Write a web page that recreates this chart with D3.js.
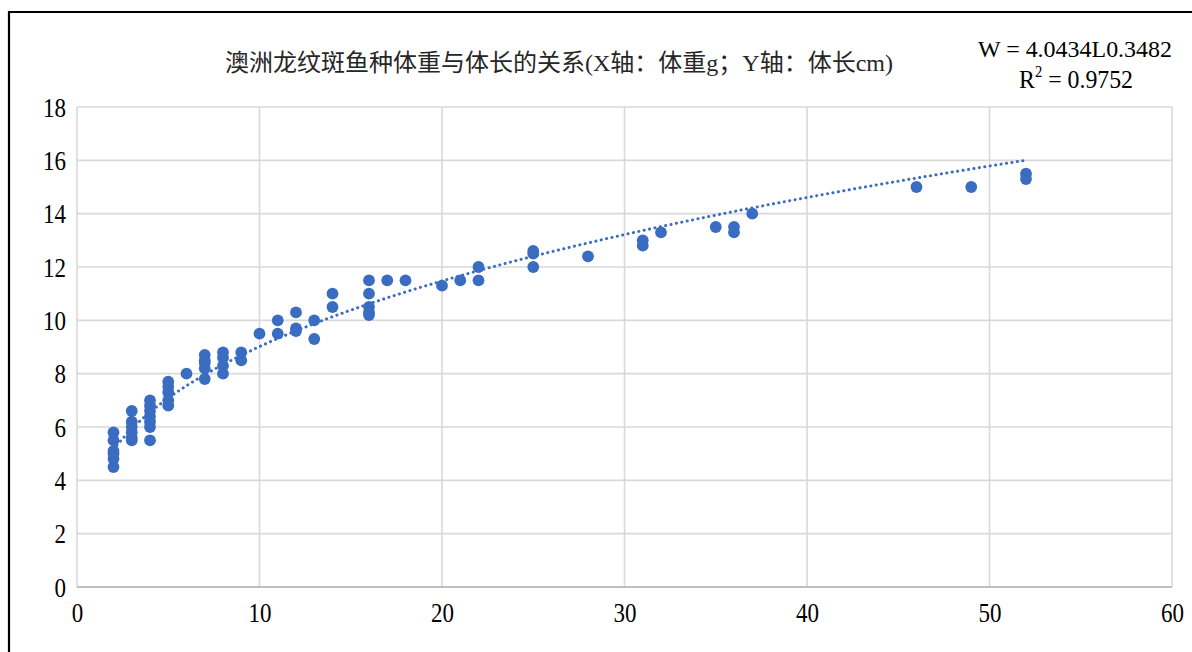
<!DOCTYPE html>
<html><head><meta charset="utf-8">
<script src="https://cdn.jsdelivr.net/npm/d3@7"></script>
<style>html,body{margin:0;padding:0;background:#fff;}svg{display:block;}</style>
</head><body>
<script>
// Data: weight (g) vs length (cm)
const weights = [2,2,2,2,2,2, 3,3,3,3,3,3, 4,4,4,4,4,4,4, 5,5,5,5,5, 6, 7,7,7,7,7, 8,8,8,8, 9,9, 10, 11,11, 12,12,12, 13,13, 14,14, 16,16,16,16,16, 17, 18, 20, 21, 22,22, 25,25,25, 28, 31,31, 32, 35, 36,36, 37, 46, 49, 52,52];
const lengths = [5.8,5.5,5.1,5.0,4.8,4.5, 6.6,6.2,6.0,5.8,5.6,5.5, 7.0,6.8,6.6,6.4,6.2,6.0,5.5, 7.7,7.5,7.3,7.0,6.8, 8.0, 8.7,8.5,8.4,8.2,7.8, 8.8,8.6,8.3,8.0, 8.8,8.5, 9.5, 10.0,9.5, 10.3,9.7,9.6, 10.0,9.3, 11.0,10.5, 11.5,11.0,10.5,10.3,10.2, 11.5, 11.5, 11.3, 11.5, 12.0,11.5, 12.6,12.5,12.0, 12.4, 13.0,12.8, 13.3, 13.5, 13.5,13.3, 14.0, 15.0, 15.0, 15.5,15.3];
const xTicks = [0,10,20,30,40,50,60];
const yTicks = [0,2,4,6,8,10,12,14,16,18];
const fitA = 4.0434, fitB = 0.3482;
const trendRange = [2,52];
const titleText = "澳洲龙纹斑鱼种体重与体长的关系(X轴：体重g；Y轴：体长cm)";
const eqText = "W = 4.0434L0.3482";
const r2Value = "0.9752";

const W = 1192, H = 652;
const svg = d3.select("body").append("svg").attr("width", W).attr("height", H);
const serif = "'Liberation Serif','Times New Roman','Noto Sans CJK SC',serif";

// outer frame (left + top border)
svg.append("path").attr("d", `M9,${H+5} L9,12 L${W+5},12`)
  .attr("fill","none").attr("stroke","#000").attr("stroke-width",2.2);

const x = d3.scaleLinear().domain([0,60]).range([77,1172]);
const y = d3.scaleLinear().domain([0,18]).range([587,107]);

// gridlines
svg.append("g").selectAll("line").data(yTicks.filter(d=>d>0)).join("line")
  .attr("x1", x(0)).attr("x2", x(60)).attr("y1", d=>y(d)).attr("y2", d=>y(d))
  .attr("stroke","#d9d9d9").attr("stroke-width",1.6);
svg.append("g").selectAll("line").data(xTicks).join("line")
  .attr("x1", d=>x(d)).attr("x2", d=>x(d)).attr("y1", y(0)).attr("y2", y(18))
  .attr("stroke","#d9d9d9").attr("stroke-width",1.6);
// x axis baseline
svg.append("line").attr("x1", x(0)).attr("x2", x(60)).attr("y1", y(0)).attr("y2", y(0))
  .attr("stroke","#bfbfbf").attr("stroke-width",1.8);

// axes labels (D3 axes, domain/ticks hidden)
const yAxis = svg.append("g").attr("transform","translate(66,0)")
  .call(d3.axisLeft(y).tickValues(yTicks).tickSize(0).tickPadding(0).tickFormat(d3.format("d")));
yAxis.select(".domain").remove();
yAxis.selectAll("text").attr("font-family", serif).attr("font-size", 27).attr("fill","#000")
  .attr("dy","0.34em")
  .attr("textLength", d => String(d).length*11.5).attr("lengthAdjust","spacingAndGlyphs");

const xAxis = svg.append("g").attr("transform",`translate(0,${y(0)})`)
  .call(d3.axisBottom(x).tickValues(xTicks).tickSize(0).tickPadding(0).tickFormat(d3.format("d")));
xAxis.select(".domain").remove();
xAxis.selectAll("text").attr("font-family", serif).attr("font-size", 27).attr("fill","#000")
  .attr("y", 35).attr("dy", 0)
  .attr("textLength", d => String(d).length*11.5).attr("lengthAdjust","spacingAndGlyphs");

// trendline (power fit shown in chart)
const color = "#3a6dc2";
const trendPts = d3.range(trendRange[0], trendRange[1]+0.001, 0.25).map(v => [v, fitA*Math.pow(v, fitB)]);
svg.append("path").datum(trendPts)
  .attr("d", d3.line().x(d=>x(d[0])).y(d=>y(d[1])))
  .attr("fill","none").attr("stroke", color).attr("stroke-width",3)
  .attr("stroke-dasharray","0.1 5.4").attr("stroke-linecap","round");

// points
svg.append("g").selectAll("circle").data(weights.map((w,i)=>[w,lengths[i]])).join("circle")
  .attr("cx", d=>x(d[0])).attr("cy", d=>y(d[1])).attr("r", 5.9).attr("fill", color);

// title
svg.append("text").attr("x", 559).attr("y", 71).attr("text-anchor","middle")
  .attr("font-family", serif).attr("font-size", 24).attr("fill","#262626")
  .attr("textLength", 668).attr("lengthAdjust","spacingAndGlyphs").text(titleText);

// equation
svg.append("text").attr("x", 1075).attr("y", 57).attr("text-anchor","middle")
  .attr("font-family", serif).attr("font-size", 24).attr("fill","#000")
  .attr("textLength", 194).attr("lengthAdjust","spacingAndGlyphs").text(eqText);
const r2 = svg.append("text").attr("x", 1076).attr("y", 88).attr("text-anchor","middle")
  .attr("font-family", serif).attr("font-size", 26).attr("fill","#000")
  .attr("textLength", 114).attr("lengthAdjust","spacingAndGlyphs");
r2.append("tspan").text("R");
r2.append("tspan").attr("font-size", 16).attr("dy", -11).text("2");
r2.append("tspan").attr("dy", 11).text(" = " + r2Value);
</script>
</body></html>
